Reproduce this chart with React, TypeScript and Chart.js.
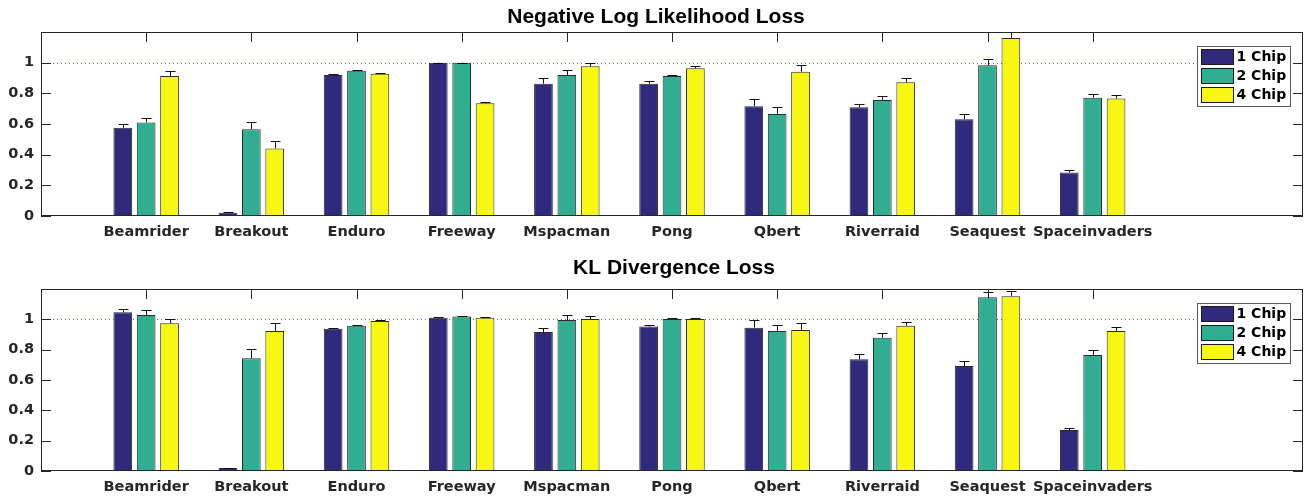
import React, { useEffect, useRef } from 'react';
import { Chart, registerables } from 'chart.js';

Chart.register(...registerables);

// ---------- data ----------
const CATEGORIES = ['Beamrider', 'Breakout', 'Enduro', 'Freeway', 'Mspacman', 'Pong', 'Qbert', 'Riverraid', 'Seaquest', 'Spaceinvaders'];
const SERIES_LABELS = ['1 Chip', '2 Chip', '4 Chip'];
const Y_TICKS = [0, 0.2, 0.4, 0.6, 0.8, 1];
const REF_LINE = 1;

const NLL_1CHIP = [0.575, 0.022, 0.920, 1.0, 0.863, 0.863, 0.716, 0.709, 0.631, 0.284];
const NLL_2CHIP = [0.610, 0.566, 0.948, 1.0, 0.920, 0.913, 0.666, 0.757, 0.983, 0.772];
const NLL_4CHIP = [0.913, 0.440, 0.928, 0.735, 0.976, 0.963, 0.941, 0.872, 1.161, 0.766];
const NLL_1CHIP_ERR = [0.028, 0.002, 0.006, 0.0, 0.035, 0.015, 0.048, 0.024, 0.035, 0.013];
const NLL_2CHIP_ERR = [0.028, 0.050, 0.006, 0.0, 0.035, 0.006, 0.048, 0.028, 0.043, 0.026];
const NLL_4CHIP_ERR = [0.031, 0.048, 0.007, 0.011, 0.022, 0.013, 0.041, 0.026, 0.040, 0.026];

const KL_1CHIP = [1.046, 0.020, 0.938, 1.011, 0.916, 0.952, 0.945, 0.736, 0.692, 0.270];
const KL_2CHIP = [1.029, 0.743, 0.958, 1.018, 0.996, 1.002, 0.923, 0.879, 1.145, 0.765];
const KL_4CHIP = [0.974, 0.923, 0.989, 1.011, 1.002, 1.002, 0.930, 0.958, 1.152, 0.923];
const KL_1CHIP_ERR = [0.020, 0.002, 0.005, 0.004, 0.029, 0.013, 0.051, 0.035, 0.031, 0.014];
const KL_2CHIP_ERR = [0.030, 0.059, 0.005, 0.004, 0.035, 0.005, 0.042, 0.031, 0.035, 0.031];
const KL_4CHIP_ERR = [0.026, 0.051, 0.004, 0.002, 0.020, 0.005, 0.044, 0.024, 0.035, 0.029];

// ---------- styles ----------
const COLORS = ['#2f2a7b', '#31ae91', '#f7f712'];
const AXIS_COLOR = '#262626';
const LABEL_FONT = { family: '"DejaVu Sans", sans-serif', size: 14.5, weight: 'bold' as const };

const matlabPlugin = {
  id: 'matlabLook',
  beforeDatasetsDraw(chart: any) {
    const { ctx, chartArea: a, scales } = chart;
    const x = scales.x;
    const y = scales.y;
    ctx.save();
    // reference dotted line
    const ry = Math.round(y.getPixelForValue(REF_LINE)) + 0.5;
    ctx.strokeStyle = '#5a5aff';
    ctx.lineWidth = 1;
    ctx.lineCap = 'butt';
    ctx.setLineDash([1, 3]);
    ctx.beginPath();
    ctx.moveTo(Math.round(a.left), ry);
    ctx.lineTo(Math.round(a.right), ry);
    ctx.stroke();
    ctx.setLineDash([]);
    // inward tick marks
    ctx.strokeStyle = AXIS_COLOR;
    ctx.beginPath();
    const tl = 10;
    y.ticks.forEach((t: any) => {
      const py = Math.round(y.getPixelForValue(t.value)) + 0.5;
      ctx.moveTo(a.left, py);
      ctx.lineTo(a.left + tl, py);
      ctx.moveTo(a.right, py);
      ctx.lineTo(a.right - tl, py);
    });
    x.ticks.forEach((t: any) => {
      const px = Math.round(x.getPixelForValue(t.value)) + 0.5;
      ctx.moveTo(px, a.top);
      ctx.lineTo(px, a.top + tl);
      ctx.moveTo(px, a.bottom);
      ctx.lineTo(px, a.bottom - tl);
    });
    ctx.stroke();
    ctx.restore();
  },
  afterDatasetsDraw(chart: any) {
    const { ctx, chartArea: a, scales } = chart;
    const y = scales.y;
    ctx.save();
    ctx.beginPath();
    ctx.rect(a.left, a.top, a.right - a.left, a.bottom - a.top);
    ctx.clip();
    ctx.strokeStyle = '#111111';
    ctx.lineWidth = 1;
    chart.data.datasets.forEach((ds: any, di: number) => {
      const meta = chart.getDatasetMeta(di);
      meta.data.forEach((el: any, i: number) => {
        const v = ds.data[i].y;
        const e = ds.errors[i];
        const top = y.getPixelForValue(v + e);
        const base = y.getPixelForValue(v);
        const px = Math.round(el.x) + 0.5;
        const ty = Math.round(top) + 0.5;
        ctx.beginPath();
        ctx.moveTo(px, base);
        ctx.lineTo(px, ty);
        ctx.moveTo(px - 5, ty);
        ctx.lineTo(px + 5, ty);
        ctx.stroke();
      });
    });
    ctx.restore();
    // frame
    ctx.save();
    ctx.strokeStyle = AXIS_COLOR;
    ctx.lineWidth = 1;
    ctx.strokeRect(Math.round(a.left) + 0.5, Math.round(a.top) + 0.5, Math.round(a.right - a.left) - 1, Math.round(a.bottom - a.top) - 1);
    ctx.restore();
  },
  afterDraw(chart: any, _args: any, opts: any) {
    const { ctx, chartArea: a } = chart;
    ctx.save();
    // title
    ctx.fillStyle = '#000000';
    ctx.font = 'bold 21px "Liberation Sans", Arial, sans-serif';
    ctx.textAlign = 'center';
    ctx.textBaseline = 'alphabetic';
    ctx.fillText(opts.title, opts.titleX, opts.titleBaseline);
    // legend
    const bw = 93;
    const bh = 60;
    const bx = Math.round(a.right - 13 - bw) + 0.5;
    const by = Math.round(a.top + 14) + 0.5;
    ctx.fillStyle = '#ffffff';
    ctx.fillRect(bx, by, bw, bh);
    ctx.strokeStyle = '#5a5a5a';
    ctx.lineWidth = 1;
    ctx.strokeRect(bx, by, bw, bh);
    ctx.font = 'bold 14px "DejaVu Sans", sans-serif';
    ctx.textAlign = 'left';
    ctx.textBaseline = 'middle';
    chart.data.datasets.forEach((ds: any, i: number) => {
      const sy = by + 3 + i * 19;
      const sx = bx + 4;
      ctx.fillStyle = ds.backgroundColor;
      ctx.fillRect(sx, sy, 32, 15);
      ctx.strokeStyle = '#1a1a1a';
      ctx.strokeRect(sx, sy, 32, 15);
      ctx.fillStyle = '#000000';
      ctx.fillText(ds.label, sx + 35, sy + 8);
    });
    ctx.restore();
  },
};

interface LossChartProps {
  width: number;
  height: number;
  top: number;
  series: number[][];
  errors: number[][];
  title: string;
  titleX: number;
  titleBaseline: number;
  padTop: number;
  xAxisHeight: number;
  padBottom: number;
}

function LossChart(p: LossChartProps) {
  const ref = useRef<HTMLCanvasElement | null>(null);
  useEffect(() => {
    if (!ref.current) return;
    const datasets = p.series.map((vals, si) => ({
      type: 'bar' as const,
      label: SERIES_LABELS[si],
      data: vals.map((v, i) => ({ x: i + 1, y: v })),
      errors: p.errors[si],
      backgroundColor: COLORS[si],
      borderColor: '#2a2a2a',
      borderWidth: 1,
      categoryPercentage: 0.667,
      barPercentage: 0.8,
    }));
    const chart = new Chart(ref.current, {
      type: 'bar',
      data: { datasets } as any,
      plugins: [matlabPlugin],
      options: {
        animation: false,
        responsive: false,
        maintainAspectRatio: false,
        events: [],
        layout: { padding: { left: 0, right: 2, top: p.padTop, bottom: p.padBottom } },
        plugins: {
          legend: { display: false },
          tooltip: { enabled: false },
          title: { display: false },
          matlabLook: { title: p.title, titleX: p.titleX, titleBaseline: p.titleBaseline },
        } as any,
        scales: {
          x: {
            type: 'linear',
            min: 0,
            max: 12,
            offset: false,
            afterBuildTicks: (s: any) => {
              s.ticks = CATEGORIES.map((_, i) => ({ value: i + 1 }));
            },
            afterFit: (s: any) => {
              s.height = p.xAxisHeight;
            },
            ticks: {
              autoSkip: false,
              maxRotation: 0,
              minRotation: 0,
              padding: 8,
              color: AXIS_COLOR,
              font: LABEL_FONT,
              callback: (v: any) => CATEGORIES[Math.round(v) - 1] ?? '',
            },
            grid: { display: false, drawTicks: false, offset: false },
            border: { display: false },
          },
          y: {
            min: 0,
            max: 1.2,
            afterBuildTicks: (s: any) => {
              s.ticks = Y_TICKS.map((v) => ({ value: v }));
            },
            afterFit: (s: any) => {
              s.width = 41;
            },
            ticks: {
              padding: 7,
              color: AXIS_COLOR,
              font: LABEL_FONT,
              callback: (v: any) => String(v),
            },
            grid: { display: false, drawTicks: false },
            border: { display: false },
          },
        },
      } as any,
    });
    return () => chart.destroy();
  }, []);
  return (
    <canvas
      ref={ref}
      width={p.width}
      height={p.height}
      style={{ position: 'absolute', left: 0, top: p.top, width: p.width, height: p.height }}
    />
  );
}

export default function App() {
  return (
    <div style={{ position: 'absolute', left: 0, top: 0, width: 1305, height: 497, background: '#ffffff' }}>
      <LossChart
        width={1305}
        height={248}
        top={0}
        series={[NLL_1CHIP, NLL_2CHIP, NLL_4CHIP]}
        errors={[NLL_1CHIP_ERR, NLL_2CHIP_ERR, NLL_4CHIP_ERR]}
        title="Negative Log Likelihood Loss"
        titleX={656}
        titleBaseline={23}
        padTop={32}
        xAxisHeight={30}
        padBottom={2}
      />
      <LossChart
        width={1305}
        height={249}
        top={248}
        series={[KL_1CHIP, KL_2CHIP, KL_4CHIP]}
        errors={[KL_1CHIP_ERR, KL_2CHIP_ERR, KL_4CHIP_ERR]}
        title="KL Divergence Loss"
        titleX={674}
        titleBaseline={26}
        padTop={41}
        xAxisHeight={24}
        padBottom={2}
      />
    </div>
  );
}
